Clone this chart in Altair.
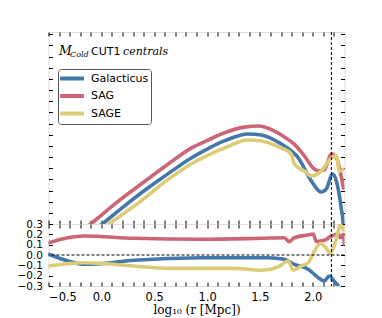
import altair as alt
import pandas as pd
import numpy as np

# ---------------- data ----------------
series = ["Galacticus", "SAG", "SAGE"]
colors = ["#4477AA", "#CC6677", "#DDCC77"]

gal_top_x = [-0.5, 0.044, 0.205, 0.376, 0.613, 0.850, 1.010, 1.162, 1.390, 1.512, 1.702, 1.863, 1.986, 2.080, 2.128, 2.185, 2.223, 2.269, 2.289, 2.299]
gal_top_y = [-1.93, 0.134, 0.76, 1.39, 2.19, 2.96, 3.38, 3.72, 4.03, 3.99, 3.58, 2.96, 1.93, 1.43, 1.57, 2.24, 1.93, 0.72, -0.09, -1.66]

sag_top_x = [-0.5, -0.066, 0.149, 0.376, 0.613, 0.850, 1.010, 1.162, 1.351, 1.484, 1.635, 1.730, 1.825, 1.920, 2.015, 2.061, 2.109, 2.176, 2.223, 2.289]
sag_top_y = [-1.48, 0.134, 0.98, 1.79, 2.62, 3.40, 3.76, 4.08, 4.34, 4.39, 4.17, 3.90, 3.58, 3.05, 2.46, 2.37, 2.42, 3.14, 2.96, 1.61]

sage_top_x = [-0.5, 0.111, 0.244, 0.376, 0.613, 0.850, 1.010, 1.162, 1.390, 1.512, 1.702, 1.796, 1.825, 1.920, 1.986, 2.080, 2.176, 2.223, 2.251, 2.289]
sage_top_y = [-1.93, 0.134, 0.58, 1.03, 1.93, 2.69, 3.09, 3.40, 3.76, 3.72, 3.40, 3.14, 2.69, 2.37, 2.15, 2.37, 2.96, 3.05, 2.37, 2.46]

gal_bot_x = [-0.496, -0.316, -0.164, -0.003, 0.309, 0.945, 1.579, 1.730, 1.825, 1.957, 2.052, 2.109, 2.156, 2.204, 2.241, 2.270]
gal_bot_y = [0.007, -0.058, -0.090, -0.084, -0.051, -0.026, -0.026, -0.042, -0.090, -0.138, -0.220, -0.252, -0.203, -0.257, -0.300, -0.368]

sag_bot_x = [-0.496, -0.316, -0.164, 0.309, 0.945, 1.512, 1.730, 1.778, 1.825, 1.957, 2.004, 2.033, 2.109, 2.176, 2.241, 2.260, 2.289, 2.299]
sag_bot_y = [0.119, 0.167, 0.184, 0.162, 0.152, 0.162, 0.167, 0.129, 0.167, 0.194, 0.203, 0.131, 0.142, 0.184, 0.203, 0.167, 0.200, 0.106]

sage_bot_x = [-0.496, -0.164, 0.309, 0.632, 1.257, 1.512, 1.673, 1.768, 1.815, 1.891, 1.957, 2.015, 2.071, 2.119, 2.165, 2.195, 2.241, 2.260, 2.289, 2.299]
sage_bot_y = [-0.106, -0.075, -0.106, -0.129, -0.129, -0.148, -0.116, -0.058, -0.148, -0.106, -0.075, 0.039, 0.111, 0.077, 0.019, 0.068, 0.232, 0.300, 0.242, 0.271]

vline_x = [2.176]
zero_y = [0.0]

x_ticks = [round(v, 1) for v in np.arange(-5, 23) / 10]
x_labels = [-0.5, 0.0, 0.5, 1.0, 1.5, 2.0]
top_ticks = [v / 2 for v in range(0, 18)]
bot_ticks = [-0.3, -0.2, -0.1, 0.0, 0.1, 0.2, 0.3]

X_DOM = [-0.5, 2.3]
TOP_DOM = [0, 8.6]
BOT_DOM = [-0.3, 0.3]
W, HT, HB = 296, 192, 62


def long(xs_list, ys_list):
    rows = []
    for name, xs, ys in zip(series, xs_list, ys_list):
        for i, (a, b) in enumerate(zip(xs, ys)):
            rows.append({"series": name, "x": a, "y": b, "i": i})
    return pd.DataFrame(rows)


top_df = long([gal_top_x, sag_top_x, sage_top_x], [gal_top_y, sag_top_y, sage_top_y])
bot_df = long([gal_bot_x, sag_bot_x, sage_bot_x], [gal_bot_y, sag_bot_y, sage_bot_y])

xscale = alt.Scale(domain=X_DOM, nice=False, zero=False)
tscale = alt.Scale(domain=TOP_DOM, nice=False, zero=False)
bscale = alt.Scale(domain=BOT_DOM, nice=False, zero=False)
cscale = alt.Scale(domain=series, range=colors)


def tick_axis(orient, offset, values):
    return alt.Axis(orient=orient, offset=offset, values=values, labels=False,
                    domain=False, grid=False, ticks=True, tickSize=4,
                    tickColor="black", tickWidth=1, title=None)


# ---------------- top panel ----------------
top_lines = alt.Chart(top_df).mark_line(strokeWidth=3.6, interpolate="monotone", clip=True, strokeCap="round").encode(
    x=alt.X("x:Q", scale=xscale, axis=tick_axis("top", -HT, x_ticks)),
    y=alt.Y("y:Q", scale=tscale, axis=tick_axis("right", -W, top_ticks)),
    color=alt.Color("series:N", scale=cscale, sort=series,
                    legend=alt.Legend(title=None, orient="none", legendX=9.5, legendY=37,
                                      symbolType="M-1.36,0H3", symbolSize=121, symbolStrokeWidth=4,
                                      labelFontSize=11, labelFont="DejaVu Sans", labelColor="black",
                                      labelOffset=16, rowPadding=0.5, padding=2,
                                      strokeColor="#555555", cornerRadius=3, fillColor="white",
                                      offset=0)),
    order="i:Q",
)

top_vline = alt.Chart(pd.DataFrame({"x": vline_x})).mark_rule(color="black", strokeWidth=1, strokeDash=[3, 2]).encode(
    x=alt.X("x:Q", scale=xscale, axis=tick_axis("bottom", -HT, x_ticks)),
)

ann_df = pd.DataFrame({
    "t": ["M", "Cold", "CUT1", "centrals"],
    "x": [-0.40, -0.296, -0.098, 0.205],
    "y": [7.57, 7.46, 7.57, 7.57],
})
ann_style = [("DejaVu Serif", "italic", 12.5), ("DejaVu Serif", "italic", 8),
             ("DejaVu Sans", "normal", 11), ("DejaVu Serif", "italic", 11)]
ann_layers = []
for k, (fnt, sty, sz) in enumerate(ann_style):
    yax = tick_axis("left", -W, top_ticks) if k == 0 else None
    ann_layers.append(
        alt.Chart(ann_df.iloc[[k]]).mark_text(align="left", baseline="alphabetic", font=fnt,
                                               fontStyle=sty, fontSize=sz, color="black").encode(
            x=alt.X("x:Q", scale=xscale, axis=None),
            y=alt.Y("y:Q", scale=tscale, axis=yax),
            text="t:N",
        )
    )

top = alt.layer(top_lines, top_vline, *ann_layers).resolve_axis(x="independent", y="independent").properties(width=W, height=HT)

# ---------------- bottom panel ----------------
bot_lines = alt.Chart(bot_df).mark_line(strokeWidth=3.6, interpolate="monotone", clip=True, strokeCap="round").encode(
    x=alt.X("x:Q", scale=xscale,
            axis=alt.Axis(orient="bottom", values=x_labels, format=".1f", ticks=False, domain=False, grid=False,
                          labelFontSize=11.5, labelFont="DejaVu Sans", labelColor="black", labelPadding=5,
                          title="log₁₀ (r [Mpc])", titleFont="DejaVu Serif", titleFontSize=12,
                          titleFontWeight="normal", titleColor="black", titlePadding=2)),
    y=alt.Y("y:Q", scale=bscale,
            axis=alt.Axis(orient="left", values=bot_ticks, format=".1f", ticks=False, domain=False, grid=False,
                          labelFontSize=10.5, labelFont="DejaVu Sans", labelColor="black", labelPadding=6,
                          labelOverlap=False, labelBound=False, title=None, minExtent=32, maxExtent=32)),
    color=alt.Color("series:N", scale=cscale, sort=series, legend=None),
    order="i:Q",
)

bot_zero = alt.Chart(pd.DataFrame({"y": zero_y})).mark_rule(color="black", strokeWidth=1, strokeDash=[3, 2]).encode(
    y=alt.Y("y:Q", scale=bscale, axis=tick_axis("right", -W, bot_ticks)),
)

bot_vline = alt.Chart(pd.DataFrame({"x": vline_x})).mark_rule(color="black", strokeWidth=1, strokeDash=[3, 2]).encode(
    x=alt.X("x:Q", scale=xscale, axis=tick_axis("top", -HB, x_ticks)),
)

bot_ghost = alt.Chart(pd.DataFrame({"x": vline_x, "y": zero_y})).mark_point(opacity=0, size=0, strokeWidth=0, clip=True).encode(
    x=alt.X("x:Q", scale=xscale, axis=tick_axis("bottom", -HB, x_ticks)),
    y=alt.Y("y:Q", scale=bscale, axis=tick_axis("left", -W, bot_ticks)),
)

bottom = alt.layer(bot_lines, bot_zero, bot_vline, bot_ghost).resolve_axis(x="independent", y="independent").properties(width=W, height=HB)

chart = alt.vconcat(top, bottom, spacing=0, bounds="flush").resolve_legend(color="independent").resolve_scale(y="independent").properties(
    padding={"left": 7.5, "top": 23, "right": 5, "bottom": 2}
).configure_view(stroke="black", strokeWidth=1.3).configure(background="white")

chart.save("out.html", embed_options={"renderer": "svg", "actions": False})
